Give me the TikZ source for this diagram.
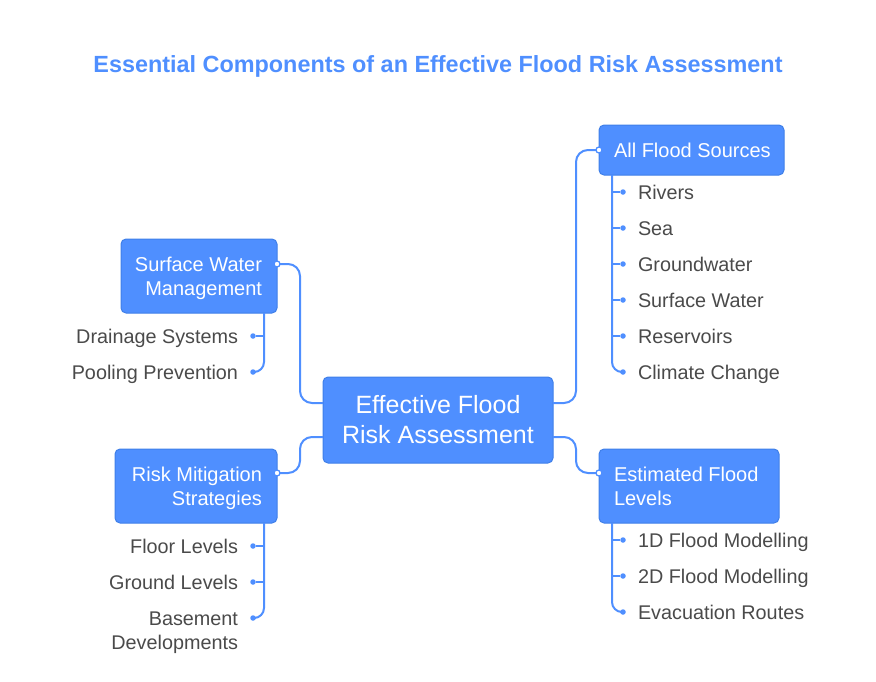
\documentclass[tikz,border=0pt]{standalone}
\usepackage{fontspec}
\setmainfont{Liberation Sans}
\definecolor{fl}{HTML}{4F8FFF}
\definecolor{ed}{HTML}{3F7FE8}
\definecolor{tx}{HTML}{4A4A4A}
\newcommand{\lst}{\rule[-5pt]{0pt}{24pt}}
\newcommand{\bst}{\rule[-6.5pt]{0pt}{30pt}}
\tikzset{
  every node/.style={inner sep=0pt,outer sep=0pt},
  boxn/.style={fill=fl,draw=ed,line width=1pt,rounded corners=5pt,anchor=north west},
  boxtext/.style={text=white,font=\fontsize{20}{24}\selectfont,align=#1},
  leaf/.style={text=tx,font=\fontsize{19.8}{24}\selectfont,align=#1},
  conn/.style={draw=fl,line width=2pt,rounded corners=12pt},
  stem/.style={draw=fl,line width=2pt,rounded corners=10pt},
  twig/.style={draw=fl,line width=2pt},
  dotn/.style={circle,fill=fl,minimum size=5.5pt},
  port/.style={circle,fill=white,draw=fl,line width=1.3pt,minimum size=6pt}
}
\begin{document}
\begin{tikzpicture}[x=1pt,y=-1pt]
\useasboundingbox (0,0) rectangle (876,681);
\node[font=\bfseries\fontsize{23.4}{28}\selectfont,text=fl] (title) at (438,64) {\rule[-6pt]{0pt}{28pt}Essential Components of an Effective Flood Risk Assessment};
% boxes
\node[boxn,minimum width=230pt,minimum height=86pt] (c) at (323,377) {};
\node[boxn,minimum width=185pt,minimum height=50pt] (a) at (599,125) {};
\node[boxn,minimum width=156pt,minimum height=74pt] (s) at (121,239) {};
\node[boxn,minimum width=162pt,minimum height=74pt] (r) at (115,449) {};
\node[boxn,minimum width=180pt,minimum height=74pt] (e) at (599,449) {};
\node[text=white,font=\fontsize{25}{30}\selectfont,align=center] (ct) at (c.center) {\bst Effective Flood\\\bst Risk Assessment};
\node[boxtext=left,anchor=west] (at) at (614,150) {\lst All Flood Sources};
\node[boxtext=right,anchor=east] (st) at (262,276) {\lst Surface Water\\\lst Management};
\node[boxtext=right,anchor=east] (rt) at (262,486) {\lst Risk Mitigation\\\lst Strategies};
\node[boxtext=left,anchor=west] (et) at (614,486) {\lst Estimated Flood\\\lst Levels};
% ports
\coordinate (cr1) at (553,403);
\coordinate (cr2) at (553,437);
\coordinate (cl1) at (323,403);
\coordinate (cl2) at (323,437);
\coordinate (ax) at (576,403);
\coordinate (ex) at (576,437);
\coordinate (sx) at (300,403);
\coordinate (rx) at (300,437);
\node[port] (ap) at (599,150) {};
\node[port] (sp) at (277,264) {};
\node[port] (rp) at (277,473) {};
\node[port] (ep) at (599,473) {};
% main connectors
\draw[conn] (cr1) -- (ax) -- (ax |- ap) -- (ap);
\draw[conn] (cr2) -- (ex) -- (ex |- ep) -- (ep);
\draw[conn] (cl1) -- (sx) -- (sx |- sp) -- (sp);
\draw[conn] (cl2) -- (rx) -- (rx |- rp) -- (rp);
% leaves
\foreach \n/\y/\t in {a1/192/Rivers,a2/228/Sea,a3/264/Groundwater,a4/300/Surface Water,a5/336/Reservoirs,a6/372/Climate Change,e1/540/1D Flood Modelling,e2/576/2D Flood Modelling,e3/612/Evacuation Routes}{
  \node[dotn] (\n d) at (623,\y) {};
  \node[leaf=left,anchor=west] (\n) at (638,\y) {\lst\t};
}
\foreach \n/\y/\t in {s1/336/Drainage Systems,s2/372/Pooling Prevention,r1/546/Floor Levels,r2/582/Ground Levels}{
  \node[dotn] (\n d) at (253,\y) {};
  \node[leaf=right,anchor=east] (\n) at (238,\y) {\lst\t};
}
\node[dotn] (r3d) at (253,618) {};
\node[leaf=right,anchor=east] (r3) at (238,630) {\lst Basement\\\lst Developments};
% stems
\coordinate (as) at (612,175);
\coordinate (es) at (612,523);
\coordinate (ss) at (264,313);
\coordinate (rs) at (264,523);
\draw[stem] (as) -- (as |- a6d) -- (a6d);
\foreach \n in {a1,a2,a3,a4,a5}{\draw[twig] (as |- \n d) -- (\n d);}
\draw[stem] (es) -- (es |- e3d) -- (e3d);
\foreach \n in {e1,e2}{\draw[twig] (es |- \n d) -- (\n d);}
\draw[stem] (ss) -- (ss |- s2d) -- (s2d);
\draw[twig] (ss |- s1d) -- (s1d);
\draw[stem] (rs) -- (rs |- r3d) -- (r3d);
\foreach \n in {r1,r2}{\draw[twig] (rs |- \n d) -- (\n d);}
\end{tikzpicture}
\end{document}
